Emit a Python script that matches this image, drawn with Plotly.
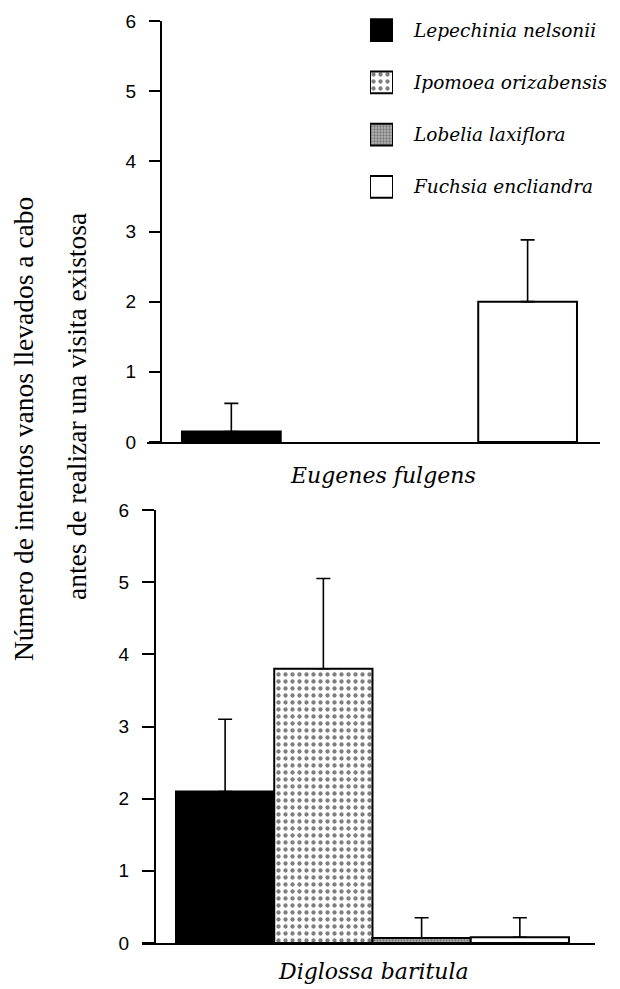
import plotly.graph_objects as go

# ---- data ----
species = ["Lepechinia nelsonii", "Ipomoea orizabensis", "Lobelia laxiflora", "Fuchsia encliandra"]
positions = [0, 1, 2, 3]
eugenes_mean = [0.15, None, None, 2.0]
eugenes_err = [0.40, None, None, 0.88]
diglossa_mean = [2.1, 3.8, 0.07, 0.08]
diglossa_err = [1.0, 1.25, 0.28, 0.27]
panel_labels = ["Eugenes fulgens", "Diglossa baritula"]
y_ticks = [0, 1, 2, 3, 4, 5, 6]
y_title = ["Número de intentos vanos llevados a cabo", "antes de realizar una visita existosa"]

# ---- styles ----
fills = [
    dict(color="black", pattern=dict(shape="")),
    dict(color="white", pattern=dict(shape=".", fgcolor="black", bgcolor="white", size=7, solidity=0.3)),
    dict(color="#aaaaaa", pattern=dict(shape=".", fgcolor="#333333", bgcolor="#b5b5b5", size=3, solidity=0.45)),
    dict(color="white", pattern=dict(shape="")),
]

H = 989.0
W = 620.0
OFF = 8.0  # page body margin in the viewer
def py(p):
    return min(1.0, max(0.0, 1 - (p - OFF) / H))
def px(p):
    return min(1.0, max(0.0, (p - OFF) / W))

fig = go.Figure()

for i, sp in enumerate(species):
    f = fills[i]
    for (means, errs, xa, ya) in [(eugenes_mean, eugenes_err, "x", "y"), (diglossa_mean, diglossa_err, "x2", "y2")]:
        if means[i] is None:
            continue
        fig.add_trace(go.Bar(
            x=[positions[i]], y=[means[i]], width=1,
            marker=dict(color=f["color"], pattern=f["pattern"], line=dict(color="black", width=2)),
            error_y=dict(type="data", symmetric=False, array=[errs[i]], arrayminus=[0],
                         color="black", thickness=1.6, width=7),
            xaxis=xa, yaxis=ya, showlegend=False, name=sp,
        ))

# legend swatches drawn as bars in a small axis
legend_swatch = [1]
for i, sp in enumerate(species):
    f = fills[i]
    fig.add_trace(go.Bar(
        x=legend_swatch, y=[positions[i]], orientation="h", width=0.42,
        marker=dict(color=f["color"], pattern=f["pattern"], line=dict(color="black", width=2)),
        xaxis="x3", yaxis="y3", showlegend=False, name=sp,
    ))

tickfont = dict(family="Liberation Sans", size=19, color="black")
legend_font = dict(family="DejaVu Serif", size=18.5, color="black", style="italic")
panel_font = dict(family="DejaVu Serif", size=22, color="black", style="italic")

fig.update_layout(
    width=620, height=989,
    margin=dict(l=0, r=0, t=0, b=0, autoexpand=False),
    paper_bgcolor="white", plot_bgcolor="white",
    barmode="overlay",
    xaxis=dict(domain=[px(147), px(600)], range=[-0.854, 3.733], anchor="y", automargin=False,
               showline=True, linecolor="black", linewidth=2, showticklabels=False,
               ticks="", showgrid=False, zeroline=False),
    yaxis=dict(domain=[py(442), py(21)], range=[0, 6], anchor="free", position=px(161), automargin=False,
               tickvals=y_ticks, showline=True, linecolor="black", linewidth=2,
               ticks="outside", ticklen=11, tickwidth=2, tickcolor="black",
               tickfont=tickfont, ticklabelstandoff=9, showgrid=False, zeroline=False),
    xaxis2=dict(domain=[px(142), px(595)], range=[-0.846, 3.765], anchor="y2", automargin=False,
                showline=True, linecolor="black", linewidth=2, showticklabels=False,
                ticks="", showgrid=False, zeroline=False),
    yaxis2=dict(domain=[py(943), py(510)], range=[0, 6], anchor="free", position=px(155), automargin=False,
                tickvals=y_ticks, showline=True, linecolor="black", linewidth=2,
                ticks="outside", ticklen=12, tickwidth=2, tickcolor="black",
                tickfont=tickfont, ticklabelstandoff=9, showgrid=False, zeroline=False),
    xaxis3=dict(domain=[px(370), px(393)], range=[0, 1], anchor="y3", automargin=False,
                visible=False, fixedrange=True),
    yaxis3=dict(domain=[py(213), py(8)], range=[3.5, -0.423], anchor="x3", side="right", automargin=False,
                tickvals=positions, ticktext=species,
                ticks="", showline=False, showgrid=False, zeroline=False,
                ticklabelstandoff=20, tickfont=legend_font),
    showlegend=False,
)

# panel labels
for lab, xpx, ypx in zip(panel_labels, [383, 373], [475, 971]):
    fig.add_annotation(text=lab, x=px(xpx), y=py(ypx), xref="paper", yref="paper",
                       showarrow=False, xanchor="center", yanchor="middle", font=panel_font)

# y title (two lines)
for t, xp, yp in zip(y_title, [23, 77], [429, 407]):
    fig.add_annotation(text=t, x=px(xp), y=py(yp), xref="paper", yref="paper",
                       showarrow=False, textangle=-90, xanchor="center", yanchor="middle",
                       font=dict(family="Liberation Serif", size=27.5, color="black"))

fig.write_html("out.html")
